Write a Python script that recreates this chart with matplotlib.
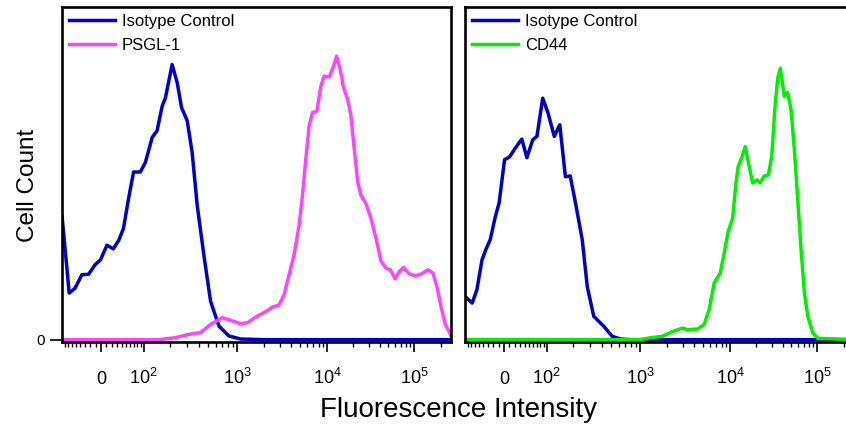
import numpy as np
import matplotlib
matplotlib.use('Agg')
import matplotlib.pyplot as plt

plt.rcParams['font.family'] = ['Liberation Sans', 'DejaVu Sans']
plt.rcParams['mathtext.fontset'] = 'custom'
plt.rcParams['mathtext.rm'] = 'Liberation Sans'
plt.rcParams['mathtext.it'] = 'Liberation Sans:italic'

# ---------------- data (fluorescence intensity, % of max-scale height) -------------
LEFT_ISO_X = [-88, -67, -52, -37, -23, -11, -1, 11, 23, 34, 44, 56, 69, 89, 105, 126, 143,
              163, 177, 209, 237, 263, 302, 340, 384, 450, 528, 644, 818, 1085, 2000, 262144]
LEFT_ISO_Y = [37.3, 14.0, 15.5, 19.5, 19.7, 22.5, 24.0, 28.4, 27.3, 29.9, 33.4, 42.4, 50.4,
              50.4, 53.3, 60.8, 62.8, 70.2, 72.7, 82.7, 77.2, 69.8, 65.8, 56.3, 40.4, 25.5,
              11.6, 4.1, 1.1, 0.2, 0, 0]

PSGL_X = [-88, 150, 227, 314, 416, 528, 699, 851, 1085, 1290, 1670, 2065, 2453, 2909, 3308,
          3762, 4277, 4867, 5308, 5779, 6293, 6863, 7669, 8506, 9257, 10540, 11840, 12820,
          14100, 15430, 17150, 18710, 20430, 22350, 24390, 27830, 31790, 36290, 41430, 47300,
          53000, 60000, 67250, 74800, 87700, 104700, 124900, 142600, 162900, 182600, 202900,
          225400, 252600, 262144]
PSGL_Y = [0, 0, 0.6, 1.6, 2.1, 4.6, 6.6, 5.8, 4.8, 5.1, 7.1, 8.4, 9.8, 10.4, 13.5, 19.5, 25.5,
          34.4, 43.4, 54.3, 64.3, 68.3, 68.7, 76.2, 79.2, 79.0, 82.2, 85.2, 81.2, 75.7, 72.2,
          67.3, 57.3, 47.4, 43.4, 40.9, 36.4, 30.4, 23.5, 21.5, 21.0, 18.3, 20.5, 21.7, 19.7,
          19.2, 20.0, 21.0, 20.0, 15.5, 9.6, 4.6, 2.1, 1.2]

RIGHT_ISO_X = [-88, -67, -55, -43, -35, -26, -16, -9, 1, 10, 21, 34, 45, 59, 70, 87, 104, 123,
               142, 164, 185, 211, 249, 281, 329, 419, 512, 624, 800, 262144]
RIGHT_ISO_Y = [13.0, 11.0, 15.0, 24.0, 27.0, 30.0, 37.0, 41.1, 54.1, 54.9, 57.6, 60.3, 54.7,
               60.1, 61.1, 72.6, 68.1, 61.1, 64.6, 49.0, 49.2, 41.1, 30.0, 16.0, 7.0, 4.0,
               1.0, 0.2, 0, 0]

CD44_X = [-88, 991, 1300, 1758, 2175, 2938, 3343, 4326, 5120, 5826, 6624, 7730, 8573, 9495,
          10660, 11630, 12360, 13520, 14870, 16530, 18090, 20270, 22110, 24580, 27330, 29900,
          32620, 35050, 37520, 41710, 45630, 49820, 54360, 59480, 64930, 70880, 77540, 88500,
          101000, 262144]
CD44_Y = [0, 0, 0.6, 1.0, 2.2, 3.5, 3.0, 3.2, 4.5, 9.0, 17.0, 20.0, 26.0, 32.5, 36.5, 47.1,
          52.0, 54.6, 58.0, 52.0, 47.1, 48.0, 47.2, 49.2, 49.5, 55.0, 70.1, 78.6, 81.6, 73.1,
          74.3, 69.1, 57.1, 42.0, 27.0, 14.0, 7.0, 2.0, 0.4, 0]

TICKS = [0, 1e2, 1e3, 1e4, 1e5]
TICK_LABELS = ['0', r'$\mathregular{10^{2}}$', r'$\mathregular{10^{3}}$',
               r'$\mathregular{10^{4}}$', r'$\mathregular{10^{5}}$']
MINOR_TICKS = ([-v for v in range(10, 90, 10)] + list(range(10, 100, 10)) +
               list(range(200, 1000, 100)) + list(range(2000, 10000, 1000)) +
               list(range(20000, 100000, 10000)) + [200000])

BLUE = '#0000C8'
PINK = '#FF44FF'
GREEN = '#00F000'

# ---------------- biexponential-like display scale ----------------
C = 62.0
_u = np.arcsinh(np.array(TICKS) / C)
_p = np.array([0.0, 42.5, 136.0, 225.5, 312.5])
_slo = _p[1] / _u[1]
_shi = (_p[4] - _p[3]) / (_u[4] - _u[3])
U_K = np.concatenate([[-40.0], _u, [40.0]])
P_K = np.concatenate([[-40.0 * _slo], _p, [_p[-1] + (40.0 - _u[-1]) * _shi]])


def fwd(x):
    return np.interp(np.arcsinh(np.asarray(x, dtype=float) / C), U_K, P_K)


def inv(p):
    return C * np.sinh(np.interp(np.asarray(p, dtype=float), P_K, U_K))


fig = plt.figure(figsize=(8.46, 4.28), dpi=100)
axL = fig.add_axes([62 / 846, 86 / 428, 389 / 846, 335 / 428])
axR = fig.add_axes([465 / 846, 86 / 428, 389 / 846, 335 / 428])

LW = 2.5
axL.plot(LEFT_ISO_X, LEFT_ISO_Y, color=BLUE, lw=LW, label='Isotype Control')
axL.plot(PSGL_X, PSGL_Y, color=PINK, lw=LW, label='PSGL-1')
axR.plot(RIGHT_ISO_X, RIGHT_ISO_Y, color=BLUE, lw=LW, label='Isotype Control')
axR.plot(CD44_X, CD44_Y, color=GREEN, lw=LW, label='CD44')

for ax in (axL, axR):
    ax.set_xscale('function', functions=(fwd, inv))
    ax.set_xlim(-88, 262144)
    ax.set_ylim(-0.7, 100)
    for s in ax.spines.values():
        s.set_linewidth(1.9)
    ax.set_xticks(TICKS, TICK_LABELS)
    ax.set_xticks(MINOR_TICKS, minor=True)
    ax.tick_params(axis='x', which='major', direction='out', length=7, width=1.2,
                   pad=23, labelsize=13)
    ax.tick_params(axis='x', which='minor', direction='out', length=3.5, width=1.0)
    for lbl in ax.get_xticklabels():
        lbl.set_verticalalignment('baseline')
    ax.legend(loc='upper left', frameon=False, fontsize=12, handlelength=2.8,
              handletextpad=0.4, labelspacing=0.55, borderaxespad=0.2, borderpad=0.2)

axL.set_yticks([0], ['0'])
axL.tick_params(axis='y', direction='out', length=8.5, width=1.2, pad=4, labelsize=11)
axR.set_yticks([])

fig.text(459 / 846, 1 - 410 / 428, 'Fluorescence Intensity', ha='center', va='center',
         fontsize=20)
fig.text(28 / 846, 1 - 185 / 428, 'Cell Count', ha='center', va='center', rotation=90,
         fontsize=17.5)

fig.savefig('out.png', dpi=100)
